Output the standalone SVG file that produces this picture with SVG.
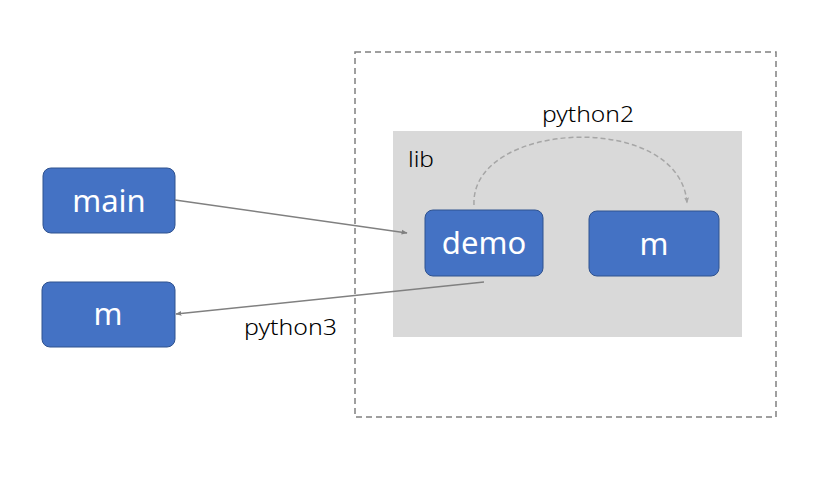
<svg xmlns="http://www.w3.org/2000/svg" width="825" height="480" viewBox="0 0 825 480">
<style>
.node rect{fill:#4472c4;stroke:#2f528f;stroke-width:1}
.node text{fill:#fff;font-family:"Noto Sans",sans-serif;font-size:31px;text-anchor:middle}
.lbl{fill:#000;font-family:"Noto Sans",sans-serif;font-size:21px;font-weight:300}
.conn{stroke:#808080;stroke-width:1.5;fill:none}
</style>
<defs>
<marker id="ah" viewBox="0 0 10 10" refX="9" refY="5" markerWidth="6" markerHeight="6" orient="auto" markerUnits="userSpaceOnUse"><path d="M0,1 L10,5 L0,9 Z" fill="#808080"/></marker>
<marker id="ah2" viewBox="0 0 10 10" refX="9" refY="5" markerWidth="6" markerHeight="6" orient="auto" markerUnits="userSpaceOnUse"><path d="M0,1 L10,5 L0,9 Z" fill="#a6a6a6"/></marker>
</defs>
<rect width="825" height="480" fill="#fff"/>
<g id="outer">
<rect x="355" y="52" width="421" height="365" fill="none" stroke="#808080" stroke-width="1.5" stroke-dasharray="6,4"/>
</g>
<g id="lib">
<rect x="393" y="131" width="349" height="206" fill="#d9d9d9"/>
<text class="lbl" x="408" y="167" textLength="26" lengthAdjust="spacingAndGlyphs">lib</text>
</g>
<g id="main" class="node">
<rect x="43" y="168" width="132" height="65" rx="8"/>
<text x="109" y="212">main</text>
</g>
<g id="m-left" class="node">
<rect x="42" y="282" width="133" height="65" rx="8"/>
<text x="108" y="325">m</text>
</g>
<g id="demo" class="node">
<rect x="425" y="210" width="118" height="66" rx="8"/>
<text x="484" y="254">demo</text>
</g>
<g id="m-right" class="node">
<rect x="589" y="211" width="130" height="65" rx="8"/>
<text x="654" y="255">m</text>
</g>
<g id="connectors">
<line class="conn" x1="175" y1="200" x2="407" y2="233" marker-end="url(#ah)"/>
<line class="conn" x1="484" y1="282" x2="176" y2="314" marker-end="url(#ah)"/>
<path d="M474,205 C470,120 680,110 687,203" fill="none" stroke="#a6a6a6" stroke-width="1.5" stroke-dasharray="5,3" marker-end="url(#ah2)"/>
<text class="lbl" x="542" y="122" textLength="92" lengthAdjust="spacingAndGlyphs">python2</text>
<text class="lbl" x="244" y="335" textLength="93" lengthAdjust="spacingAndGlyphs">python3</text>
</g>
</svg>
